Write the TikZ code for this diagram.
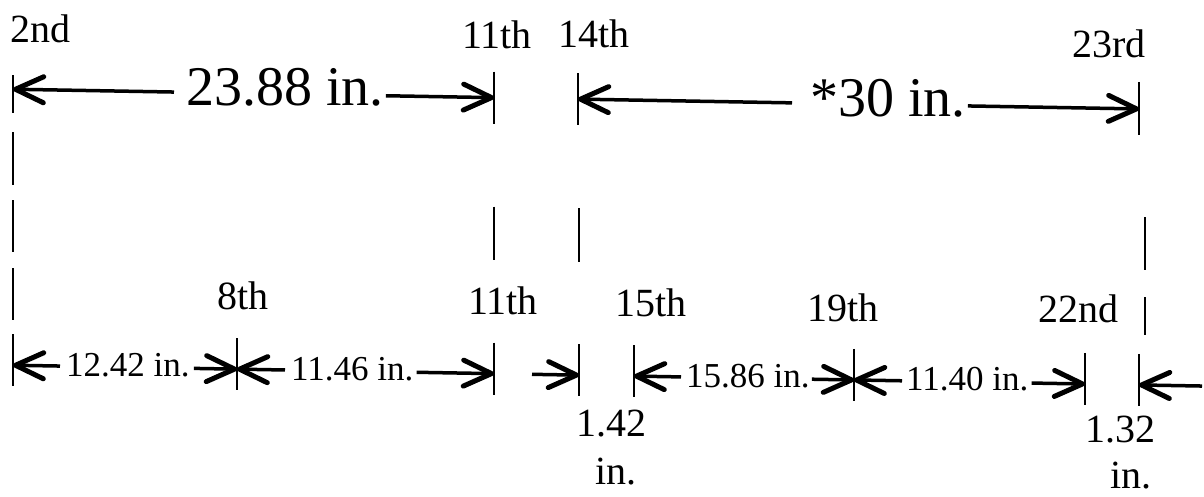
\documentclass[tikz,border=0pt]{standalone}
\usepackage{fontspec}
\setmainfont{Liberation Serif}
\usetikzlibrary{arrows.meta}
\tikzset{
  lbl/.style={font=\fontsize{40}{48}\selectfont, inner sep=0pt, anchor=base west},
  biglbl/.style={font=\fontsize{56}{62}\selectfont, inner sep=0pt, anchor=base west},
  dimlbl/.style={font=\fontsize{35}{40}\selectfont, inner sep=0pt, anchor=base west},
  smalllbl/.style={font=\fontsize{40}{48}\selectfont, inner sep=0pt, anchor=base},
  tickline/.style={line width=1.6pt},
  dimarrow/.style={line width=3.5pt, -{Straight Barb[length=28pt,width=26pt,line width=5pt,round]}},
}
\begin{document}
\begin{tikzpicture}[x=1pt,y=-1pt]
\useasboundingbox (0,0) rectangle (1204,497);
\begin{scope}[yslant=-0.0175]
% ---- tick reference points ----
\coordinate (u2)  at (13,89);
\coordinate (u11) at (494,89);
\coordinate (u14) at (578,89);
\coordinate (u23) at (1139,89);
\coordinate (b2)  at (13,365);
\coordinate (b8)  at (237,365);
\coordinate (b11) at (494,365);
\coordinate (b14) at (579,365);
\coordinate (b15) at (634,365);
\coordinate (b19) at (854,365);
\coordinate (b22) at (1085,365);
\coordinate (b23) at (1139,365);
\coordinate (c142) at (532,365);
\coordinate (bR)  at (1202,365);
% ---- ticks ----
\draw[tickline] (13,75) -- (13,113);
\draw[tickline] (494,63) -- (494,115);
\draw[tickline] (578,63) -- (578,115);
\draw[tickline] (1139,62) -- (1139,115);
\foreach \xx in {13,237,494,579,634,854,1085,1139}
  \draw[tickline] (\xx,334) -- (\xx,386);
% ---- extension lines ----
\draw[tickline] (13,132) -- (13,185);
\draw[tickline] (13,200) -- (13,252);
\draw[tickline] (13,268) -- (13,320);
\draw[tickline] (494,198) -- (494,251);
\draw[tickline] (579,198) -- (579,252);
\draw[tickline] (1145,197) -- (1145,250);
\draw[tickline] (1145,277) -- (1145,315);
% ---- top labels ----
\node[lbl] (l2nd)  at (10,42) {2nd};
\node[lbl] (l11t)  at (462,40) {11th};
\node[lbl] (l14th) at (558,38) {14th};
\node[lbl] (l23rd) at (1072,39) {23rd};
\node[biglbl] (n2388) at (186,102) {23.88 in.};
\node[biglbl] (n30)   at (810,102) {*30 in.};
% ---- bottom labels ----
\node[lbl] (l8th)  at (217,306) {8th};
\node[lbl] (l11b)  at (468,306) {11th};
\node[lbl] (l15th) at (615,306) {15th};
\node[lbl] (l19th) at (807,307) {19th};
\node[lbl] (l22nd) at (1038,304) {22nd};
\node[dimlbl] (n1242) at (66,375)  {12.42 in.};
\node[dimlbl] (n1146) at (291,375) {11.46 in.};
\node[dimlbl] (n1586) at (686,375) {15.86 in.};
\node[dimlbl] (n1140) at (906,375) {11.40 in.};
\node[smalllbl] (n142a) at (611,426) {1.42};
\node[smalllbl] (n142b) at (616,474) {in.};
\node[smalllbl] (n132a) at (1120,423) {1.32};
\node[smalllbl] (n132b) at (1131,469) {in.};
% ---- top dimension arrows ----
\draw[dimarrow] ([xshift=-12pt]n2388.west |- u2) -- (u2);
\draw[dimarrow] ([xshift=2pt]n2388.east |- u11) -- (u11);
\draw[dimarrow] ([xshift=-18pt]n30.west |- u14) -- (u14);
\draw[dimarrow] ([xshift=2pt]n30.east |- u23) -- (u23);
% ---- bottom dimension arrows ----
\draw[dimarrow] ([xshift=-6pt]n1242.west |- b2) -- (b2);
\draw[dimarrow] ([xshift=4pt]n1242.east |- b8) -- (b8);
\draw[dimarrow] ([xshift=-6pt]n1146.west |- b8) -- (b8);
\draw[dimarrow] ([xshift=3pt]n1146.east |- b11) -- (b11);
\draw[dimarrow] (c142) -- (b14);
\draw[dimarrow] ([xshift=-5pt]n1586.west |- b15) -- (b15);
\draw[dimarrow] ([xshift=2pt]n1586.east |- b19) -- (b19);
\draw[dimarrow] ([xshift=-4pt]n1140.west |- b19) -- (b19);
\draw[dimarrow] ([xshift=3pt]n1140.east |- b22) -- (b22);
\draw[dimarrow] (bR) -- (b23);
\end{scope}
\end{tikzpicture}
\end{document}
